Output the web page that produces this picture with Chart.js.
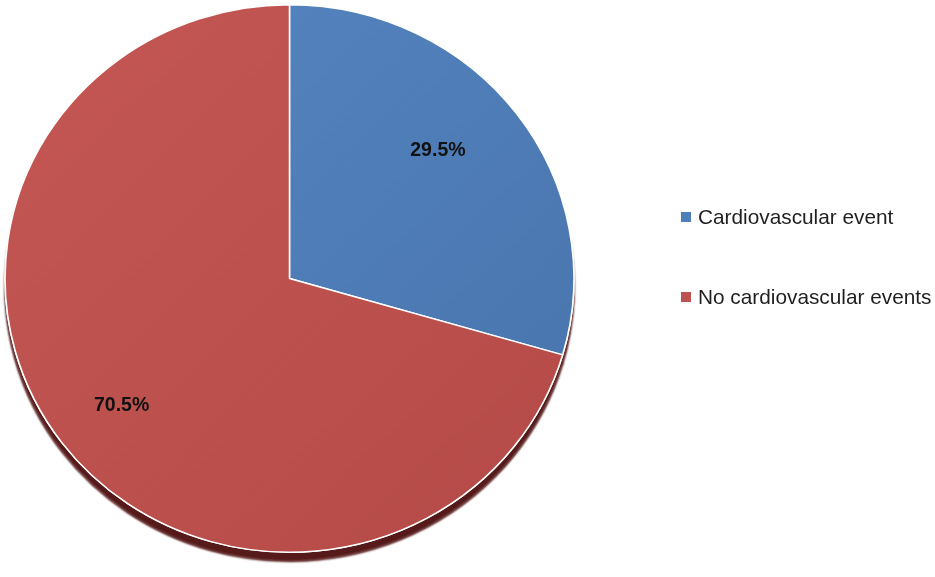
<!DOCTYPE html>
<html>
<head>
<meta charset="utf-8">
<script src="https://cdn.jsdelivr.net/npm/chart.js@4.4.1/dist/chart.umd.min.js"></script>
<style>
    html, body { margin: 0; padding: 0; background: #fff; }
    #wrap { position: relative; width: 935px; height: 577px; }
    #pie { position: absolute; left: 0; top: 0; }
    #legend {
        position: absolute; left: 681px; top: 205px;
        font-family: "Liberation Sans", Arial, sans-serif; font-size: 20.8px; color: #1f1f1f;
    }
    .legend-item { display: flex; align-items: center; height: 24px; margin-bottom: 56px; white-space: nowrap; }
    .legend-box { width: 10px; height: 10px; margin-right: 7px; }
</style>
</head>
<body>
<div id="wrap">
    <canvas id="pie" width="935" height="577"></canvas>
    <div id="legend"></div>
</div>
<script>
const categories = ['Cardiovascular event', 'No cardiovascular events'];
const shares = [29.5, 70.5];
const sliceColors = ['#4f7fba', '#bd5250'];
const gradientStops = [['#5586c2', '#4873ab'], ['#c45754', '#b44a47']];

// where the percentage labels sit inside each slice
const labelRadius = [0.70, 0.75];
const labelNudgeDeg = [-4.9, -1.2];

// the original pie is a touch wider than tall
const stretchX = 1.039;

const ellipseAndShadow = {
    id: 'ellipseAndShadow',
    beforeDatasetsDraw(chart) {
        const ctx = chart.ctx;
        const arcs = chart.getDatasetMeta(0).data;
        ctx.save();
        ctx.translate(arcs[0].x, arcs[0].y);
        ctx.scale(stretchX, 1);
        ctx.translate(-arcs[0].x, -arcs[0].y);
        // shadow pass: the slices once with a dropped "thickness", then the normal draw covers them
        ctx.save();
        ctx.shadowColor = '#561a1a';
        ctx.shadowOffsetY = 9;
        ctx.shadowBlur = 2;
        arcs.forEach(el => el.draw(ctx, chart.chartArea));
        ctx.restore();
    },
    afterDatasetsDraw(chart) {
        chart.ctx.restore();
    }
};

const sliceLabels = {
    id: 'sliceLabels',
    afterDatasetsDraw(chart) {
        const ctx = chart.ctx;
        const ds = chart.data.datasets[0];
        ctx.save();
        ctx.font = 'bold 19.5px "Liberation Sans", Arial, sans-serif';
        ctx.fillStyle = '#111';
        ctx.textAlign = 'center';
        ctx.textBaseline = 'middle';
        chart.getDatasetMeta(0).data.forEach((el, i) => {
            const p = el.getProps(['x', 'y', 'startAngle', 'endAngle', 'outerRadius'], true);
            const mid = (p.startAngle + p.endAngle) / 2 + labelNudgeDeg[i] * Math.PI / 180;
            const r = p.outerRadius * labelRadius[i];
            const x = p.x + Math.cos(mid) * r * stretchX;
            const y = p.y + Math.sin(mid) * r;
            ctx.fillText(ds.data[i].toFixed(1) + '%', x, y);
        });
        ctx.restore();
    }
};

function sliceFill(context) {
    const i = context.dataIndex;
    const area = context.chart.chartArea;
    if (!area) return sliceColors[i];
    const g = context.chart.ctx.createLinearGradient(area.left, area.top, area.right, area.bottom);
    g.addColorStop(0, gradientStops[i][0]);
    g.addColorStop(1, gradientStops[i][1]);
    return g;
}

new Chart(document.getElementById('pie'), {
    type: 'pie',
    data: {
        labels: categories,
        datasets: [{
            data: shares,
            backgroundColor: sliceFill,
            borderColor: '#ffffff',
            borderWidth: 1.5
        }]
    },
    options: {
        responsive: false,
        animation: false,
        layout: { padding: { left: 15, right: 371, top: 4, bottom: 24 } },
        plugins: {
            legend: { display: false },
            tooltip: { enabled: false }
        }
    },
    plugins: [ellipseAndShadow, sliceLabels]
});

// legend built from the same arrays
document.getElementById('legend').innerHTML = categories.map((c, i) => `
    <div class="legend-item">
        <span class="legend-box" style="background:${sliceColors[i]}"></span>
        <span>${c}</span>
    </div>
`).join('');
</script>
</body>
</html>
